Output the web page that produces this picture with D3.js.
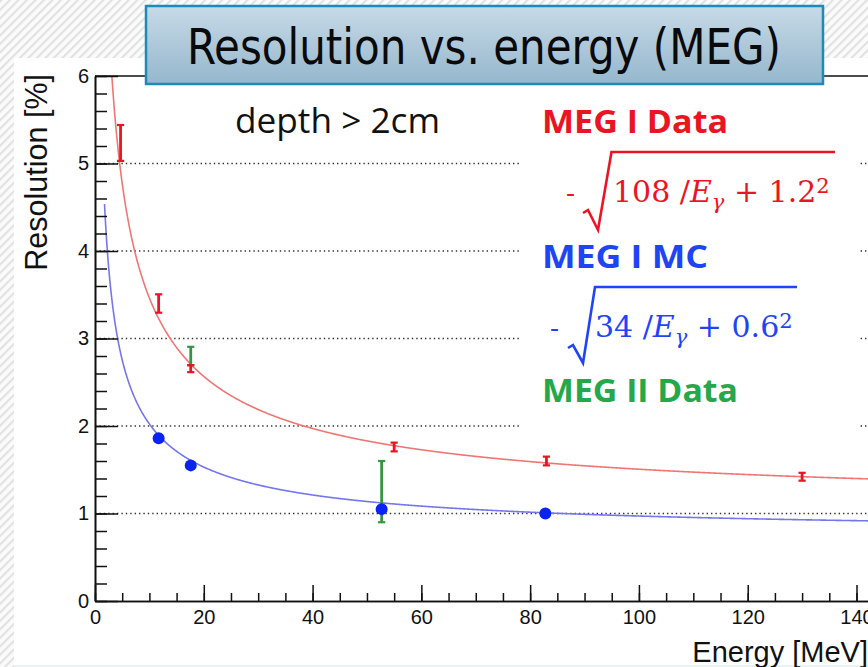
<!DOCTYPE html>
<html><head><meta charset="utf-8">
<script src="https://cdn.jsdelivr.net/npm/d3@7"></script>
<style>body{margin:0;background:#fff}svg{display:block}</style>
</head><body>
<svg id="c" width="868" height="667"></svg>
<script>
// ---------- data ----------
const xMajorTicks = [0, 20, 40, 60, 80, 100, 120, 140];
const yMajorTicks = [0, 1, 2, 3, 4, 5, 6];
const gridValues = [1, 2, 3, 4, 5];

// MEG I Data (red error bars)
const redE   = [4.7, 11.7, 17.6, 55, 83, 130];
const redRes = [5.235, 3.40, 2.655, 1.76, 1.60, 1.42];
const redErr = [0.205, 0.105, 0.04, 0.05, 0.05, 0.045];

// MEG I MC (blue points)
const blueE   = [11.7, 17.6, 52.7, 82.8];
const blueRes = [1.86, 1.55, 1.05, 1.00];

// MEG II Data (green error bars)
const greenE   = [17.6, 52.7];
const greenRes = [2.80, 1.25];
const greenErr = [0.105, 0.35];

// fit curves  sqrt(a/E + b^2), as drawn in the picture
const fitA     = [108, 35];
const fitB     = [1.09, 0.77];
const fitStart = [3.0, 1.75];
const fitColor = ["#f07676", "#7676ec"];

// ---------- drawing ----------
const svg = d3.select("#c");
const defs = svg.append("defs");
const pat = defs.append("pattern").attr("id","hatch").attr("patternUnits","userSpaceOnUse")
  .attr("width",6).attr("height",6).attr("patternTransform","rotate(45)");
pat.append("rect").attr("width",6).attr("height",6).attr("fill","#fbfbfb");
pat.append("rect").attr("width",2.2).attr("height",6).attr("fill","#e2e2e2");
const grad = defs.append("linearGradient").attr("id","tg").attr("x1",0).attr("y1",0).attr("x2",0).attr("y2",1);
grad.append("stop").attr("offset","0%").attr("stop-color","#c7dae7");
grad.append("stop").attr("offset","100%").attr("stop-color","#95b7cd");
defs.append("clipPath").attr("id","plotclip").append("rect")
  .attr("x",95).attr("y",76).attr("width",800).attr("height",525);

svg.append("rect").attr("width",868).attr("height",667).attr("fill","url(#hatch)");
svg.append("rect").attr("x",14).attr("y",58).attr("width",854).attr("height",607).attr("fill","#fff");
svg.append("rect").attr("x",14).attr("y",665).attr("width",854).attr("height",2).attr("fill","#e9f3f4");

const x = d3.scaleLinear().domain([0,150]).range([95, 95 + 150*(856.5-95)/140]);
const y = d3.scaleLinear().domain([0,6]).range([601,76]);

// grid
svg.append("g").selectAll("line").data(gridValues).join("line")
  .attr("x1",x(0)).attr("x2",868).attr("y1",d=>y(d)).attr("y2",d=>y(d))
  .attr("stroke","#333").attr("stroke-width",1.3).attr("stroke-dasharray","1.4,3");

// legend white area
svg.append("rect").attr("x",519).attr("y",100).attr("width",341).attr("height",336).attr("fill","#fff");

// curves
const plot = svg.append("g").attr("clip-path","url(#plotclip)");
fitA.forEach((a,i)=>{
  const pts = d3.range(fitStart[i], 150, 0.1).map(E=>[E, Math.sqrt(a/E + fitB[i]*fitB[i])]);
  plot.append("path").datum(pts)
    .attr("d", d3.line().x(d=>x(d[0])).y(d=>y(d[1])))
    .attr("fill","none").attr("stroke",fitColor[i]).attr("stroke-width",1.6);
});

function errBars(E, R, Er, color, cap, w){
  const g = svg.append("g").attr("stroke",color).attr("stroke-width",w).attr("fill","none");
  E.forEach((e,i)=>{
    const cx = x(e), y1 = y(R[i]-Er[i]), y2 = y(R[i]+Er[i]);
    g.append("line").attr("x1",cx).attr("x2",cx).attr("y1",y1).attr("y2",y2);
    g.append("line").attr("x1",cx-cap).attr("x2",cx+cap).attr("y1",y1).attr("y2",y1).attr("stroke-width",2.2);
    g.append("line").attr("x1",cx-cap).attr("x2",cx+cap).attr("y1",y2).attr("y2",y2).attr("stroke-width",2.2);
  });
}
errBars(greenE, greenRes, greenErr, "#34973f", 3.6, 2.8);
svg.append("g").selectAll("circle").data(blueE).join("circle")
  .attr("cx",d=>x(d)).attr("cy",(d,i)=>y(blueRes[i])).attr("r",6).attr("fill","#0a22f2");
errBars(redE, redRes, redErr, "#ea1422", 3.6, 2.8);

// axes
const axStyle = g => {
  g.selectAll("path.domain").attr("stroke","#111").attr("stroke-width",1.6);
  g.selectAll(".tick line").attr("stroke","#111").attr("stroke-width",1.5);
  g.selectAll("text").attr("font-family","'Liberation Sans', Arial, sans-serif").attr("font-size",20).attr("fill","#111");
};
svg.append("g").attr("transform","translate(0,601)")
  .call(d3.axisBottom(x).tickValues(d3.range(0,151,5)).tickSize(-8).tickSizeOuter(0).tickFormat(""))
  .call(axStyle);
svg.append("g").attr("transform","translate(0,601)")
  .call(d3.axisBottom(x).tickValues(xMajorTicks).tickSize(-16).tickSizeOuter(0).tickPadding(9).tickFormat(d3.format("d")))
  .call(axStyle);
svg.append("g").attr("transform","translate(95,0)")
  .call(d3.axisLeft(y).tickValues(d3.range(0,30.5,1).map(v=>v/5)).tickSize(-12).tickSizeOuter(0).tickFormat(""))
  .call(axStyle);
svg.append("g").attr("transform","translate(95,0)")
  .call(d3.axisLeft(y).tickValues(yMajorTicks).tickSize(-23).tickSizeOuter(0).tickPadding(6).tickFormat(d3.format("d")))
  .call(axStyle);
// top frame
svg.append("line").attr("x1",x(0)).attr("x2",868).attr("y1",y(6)).attr("y2",y(6))
  .attr("stroke","#111").attr("stroke-width",1.6);

// axis titles
svg.append("text").attr("x",868).attr("y",662).attr("text-anchor","end")
  .attr("font-family","'Liberation Sans', Arial, sans-serif").attr("font-size",29).attr("fill","#111")
  .text("Energy [MeV]");
svg.append("text").attr("transform","translate(47,74) rotate(-90)").attr("text-anchor","end")
  .attr("font-family","'Liberation Sans', Arial, sans-serif").attr("font-size",30.5).attr("fill","#111")
  .text("Resolution [%]");

// annotations
svg.append("text").attr("x",235).attr("y",133).attr("font-family","'Open Sans', sans-serif")
  .attr("font-size",35).attr("fill","#111").attr("textLength",205).attr("lengthAdjust","spacingAndGlyphs")
  .text("depth > 2cm");

const legendItems = [
  {t:"MEG I Data", c:"#ea1422", y:133, w:186},
  {t:"MEG I MC", c:"#1f44f6", y:268, w:166},
  {t:"MEG II Data", c:"#23a84b", y:402, w:196}
];
svg.append("g").selectAll("text").data(legendItems).join("text")
  .attr("x",542).attr("y",d=>d.y).attr("fill",d=>d.c)
  .attr("font-family","'Open Sans', sans-serif").attr("font-weight",700).attr("font-size",32.5)
  .attr("textLength",d=>d.w).attr("lengthAdjust","spacingAndGlyphs").text(d=>d.t);

function formula(num, konst, color, tx, ty, dashX, rad){
  svg.append("text").attr("x",dashX).attr("y",ty).attr("fill",color)
    .attr("font-family","'Open Sans', sans-serif").attr("font-size",28).text("-");
  svg.append("path").attr("d",d3.line()(rad)).attr("fill","none").attr("stroke",color)
    .attr("stroke-width",2.6).attr("stroke-linejoin","miter");
  const t = svg.append("text").attr("x",tx).attr("y",ty).attr("fill",color)
    .attr("font-family","'DejaVu Serif', serif").attr("font-size",30);
  t.append("tspan").text(num + " /");
  t.append("tspan").attr("font-style","italic").text("E");
  t.append("tspan").attr("font-style","italic").attr("font-size",21).attr("dy",7).text("γ");
  t.append("tspan").attr("dy",-7).text(" + " + konst);
  t.append("tspan").attr("font-size",21).attr("dy",-9).text("2");
}
formula("108", "1.2", "#ea1422", 613, 202, 566,
  [[583,213],[588,210],[598,230],[611.5,152],[835,152]]);
formula("34", "0.6", "#1f44f6", 595, 337, 550,
  [[568,348],[573,345],[583,363],[595,287],[797,287]]);

// title box
svg.append("rect").attr("x",146).attr("y",6).attr("width",677).attr("height",78)
  .attr("fill","url(#tg)").attr("stroke","#1b8bb9").attr("stroke-width",2.5);
svg.append("text").attr("x",187).attr("y",63.5)
  .attr("font-family","'Liberation Sans Narrow','DejaVu Sans Condensed','Liberation Sans',sans-serif")
  .attr("font-size",49).attr("fill","#0a0a0a").attr("textLength",594).attr("lengthAdjust","spacingAndGlyphs")
  .text("Resolution vs. energy (MEG)");
</script>
</body></html>
